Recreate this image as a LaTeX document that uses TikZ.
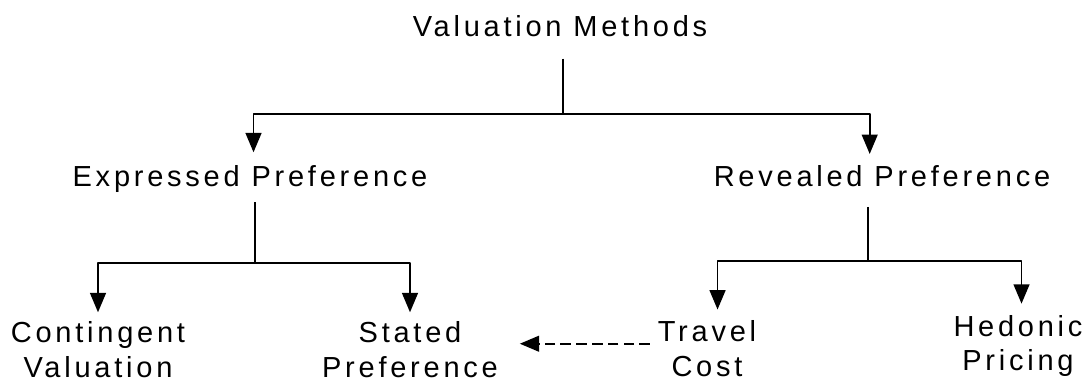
\documentclass[tikz,border=0pt]{standalone}
\usepackage{fontspec}
\setmainfont{Liberation Sans}[LetterSpace=13]
\usetikzlibrary{arrows.meta}
\begin{document}
\begin{tikzpicture}[x=0.02cm,y=-0.02cm,line width=1pt,line join=round,>={Triangle[length=11pt,width=9pt]},
lbl/.style={inner sep=0pt,align=center,font=\fontsize{16.5}{19.8}\selectfont}]
\useasboundingbox (0,0) rectangle (1089,385);
% top level
\node[lbl] (vm) at (560,26) {Valuation Methods};
\node[lbl] (ep) at (250,179) {Expressed Preference};
\node[lbl] (rp) at (882,176) {Revealed Preference};
% bottom level
\node[lbl] (cv) at (98,350) {Contingent\\Valuation};
\node[lbl] (sp) at (410,350) {Stated\\Preference};
\node[lbl] (tc) at (707,349) {Travel\\Cost};
\node[lbl] (hp) at (1018,346) {Hedonic\\Pricing};
% junctions
\coordinate (j0) at (563,114);
\coordinate (j1) at (255,263);
\coordinate (j2) at (868,261);
\draw ([yshift=-12pt]vm.south -| j0) -- (j0);
\draw[->,shorten >=7pt] (j0) -| ([xshift=2pt]ep.north);
\draw[->,shorten >=6pt] (j0) -| ([xshift=-7pt]rp.north);
\draw ([yshift=-5pt]ep.south -| j1) -- (j1);
\draw[->,shorten >=5pt] (j1) -| (cv.north);
\draw[->,shorten >=5pt] (j1) -| (sp.north);
\draw ([yshift=-11pt]rp.south -| j2) -- (j2);
\draw[->,shorten >=6pt] (j2) -| ([xshift=6pt]tc.north);
\draw[->,shorten >=6pt] (j2) -| ([xshift=2pt]hp.north);
% link
\draw[->,dashed,dash pattern=on 6pt off 3pt,shorten <=4pt,shorten >=12pt] ([yshift=3pt]tc.west) -- ([yshift=3pt]tc.west -| sp.east);
\end{tikzpicture}
\end{document}
